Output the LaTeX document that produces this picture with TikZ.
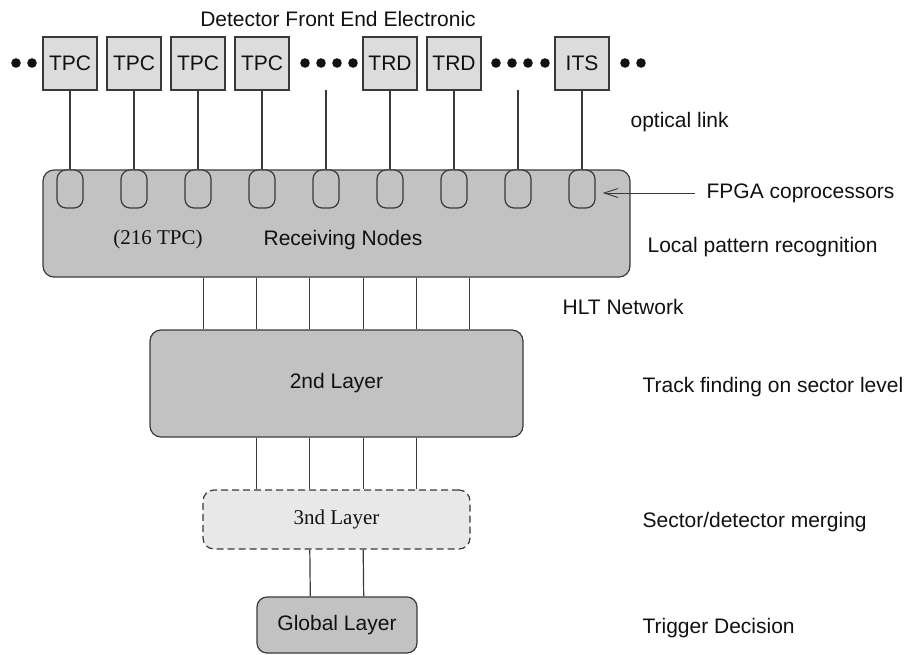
\documentclass[tikz,border=0pt]{standalone}
\usepackage{fontspec}
\setmainfont{Liberation Sans}
\newfontfamily\timesfont{Liberation Serif}
\usetikzlibrary{arrows.meta,calc}
\definecolor{linegray}{HTML}{3A3A3A}
\definecolor{detgray}{HTML}{DCDCDC}
\definecolor{nodegray}{HTML}{C2C2C2}
\definecolor{lightgray}{HTML}{E8E8E8}
\definecolor{textgray}{HTML}{111111}

\begin{document}
\begin{tikzpicture}[x=1pt,y=-1pt,line width=1.2pt,
  every node/.style={font=\fontsize{21}{25}\selectfont,text=textgray},
  detbox/.style={draw=linegray,fill=detgray,minimum width=54pt,minimum height=53pt,inner sep=0pt},
  fpga/.style={draw=linegray,fill=nodegray,rounded corners=9pt,minimum width=26pt,minimum height=38pt,inner sep=0pt},
  layerbox/.style={draw=linegray,fill=nodegray,rounded corners=11pt,inner sep=0pt},
  note/.style={anchor=west,inner sep=0pt},
  link/.style={draw=linegray}]
\path[use as bounding box] (0,0) rectangle (908,654);
\node (front) at (338,19) {Detector Front End Electronic};
\foreach \i/\t in {1/TPC,2/TPC,3/TPC,4/TPC,6/TRD,7/TRD,9/ITS}
  \node[detbox] (d\i) at ({6+64*\i},63.5) {\t};
\coordinate (d5) at (326,90);
\coordinate (d8) at (518,90);
\foreach \x in {16,32,305,321,337,353,496,512,528,545,625,641}
  \fill[textgray] (\x,63) circle (4.8);
\node[layerbox,minimum width=587pt,minimum height=107pt] (recv) at (336.5,223.5) {};
\foreach \i in {1,...,9}
  \node[fpga] (f\i) at ({6+64*\i},189) {};
\foreach \i in {1,...,9}
  \draw[link] (d\i) -- (f\i);
\node (tpccount) at (158,239) {\timesfont (216 TPC)};
\node (recvtxt) at (343,240) {Receiving Nodes};
\node[layerbox,minimum width=373pt,minimum height=107pt] (lay2) at (336.5,383.5) {2nd Layer};
\node[layerbox,fill=lightgray,dash pattern=on 7pt off 4pt,minimum width=267pt,minimum height=59pt] (lay3) at (336.5,519.5) {\timesfont 3nd Layer};
\node[layerbox,rounded corners=10pt,minimum width=160pt,minimum height=56pt] (glob) at (337,625) {Global Layer};
\foreach \dx in {-133.3,-80,-26.7,26.7,80,133.3}
  \draw[link] ([xshift=\dx]recv.south) -- ([xshift=\dx]lay2.north);
\foreach \dx in {-80,-26.7,26.7,80}
  \draw[link] ([xshift=\dx]lay2.south) -- ([xshift=\dx]lay3.north);
\foreach \dx in {-26.7,26.7}
  \draw[link] ([xshift=\dx]lay3.south) -- ([xshift=\dx]glob.north);
\node[note] (optic) at (630,122) {optical link};
\node[note] (fpgalbl) at (706,193) {FPGA coprocessors};
\node[note] (localpr) at (647,247) {Local pattern recognition};
\node[note] (hltnet) at (562,307) {HLT Network};
\node[note] (trackf) at (642,387) {Track finding on sector level};
\node[note] (merging) at (642,522) {Sector/detector merging};
\node[note] (trigger) at (642,628) {Trigger Decision};
\draw[link,line width=.9pt,-{Straight Barb[length=14pt,width=9pt]}] ([xshift=-11pt]fpgalbl.west) -- ($(f9.east |- fpgalbl.west)+(7,0)$);
\end{tikzpicture}
\end{document}
